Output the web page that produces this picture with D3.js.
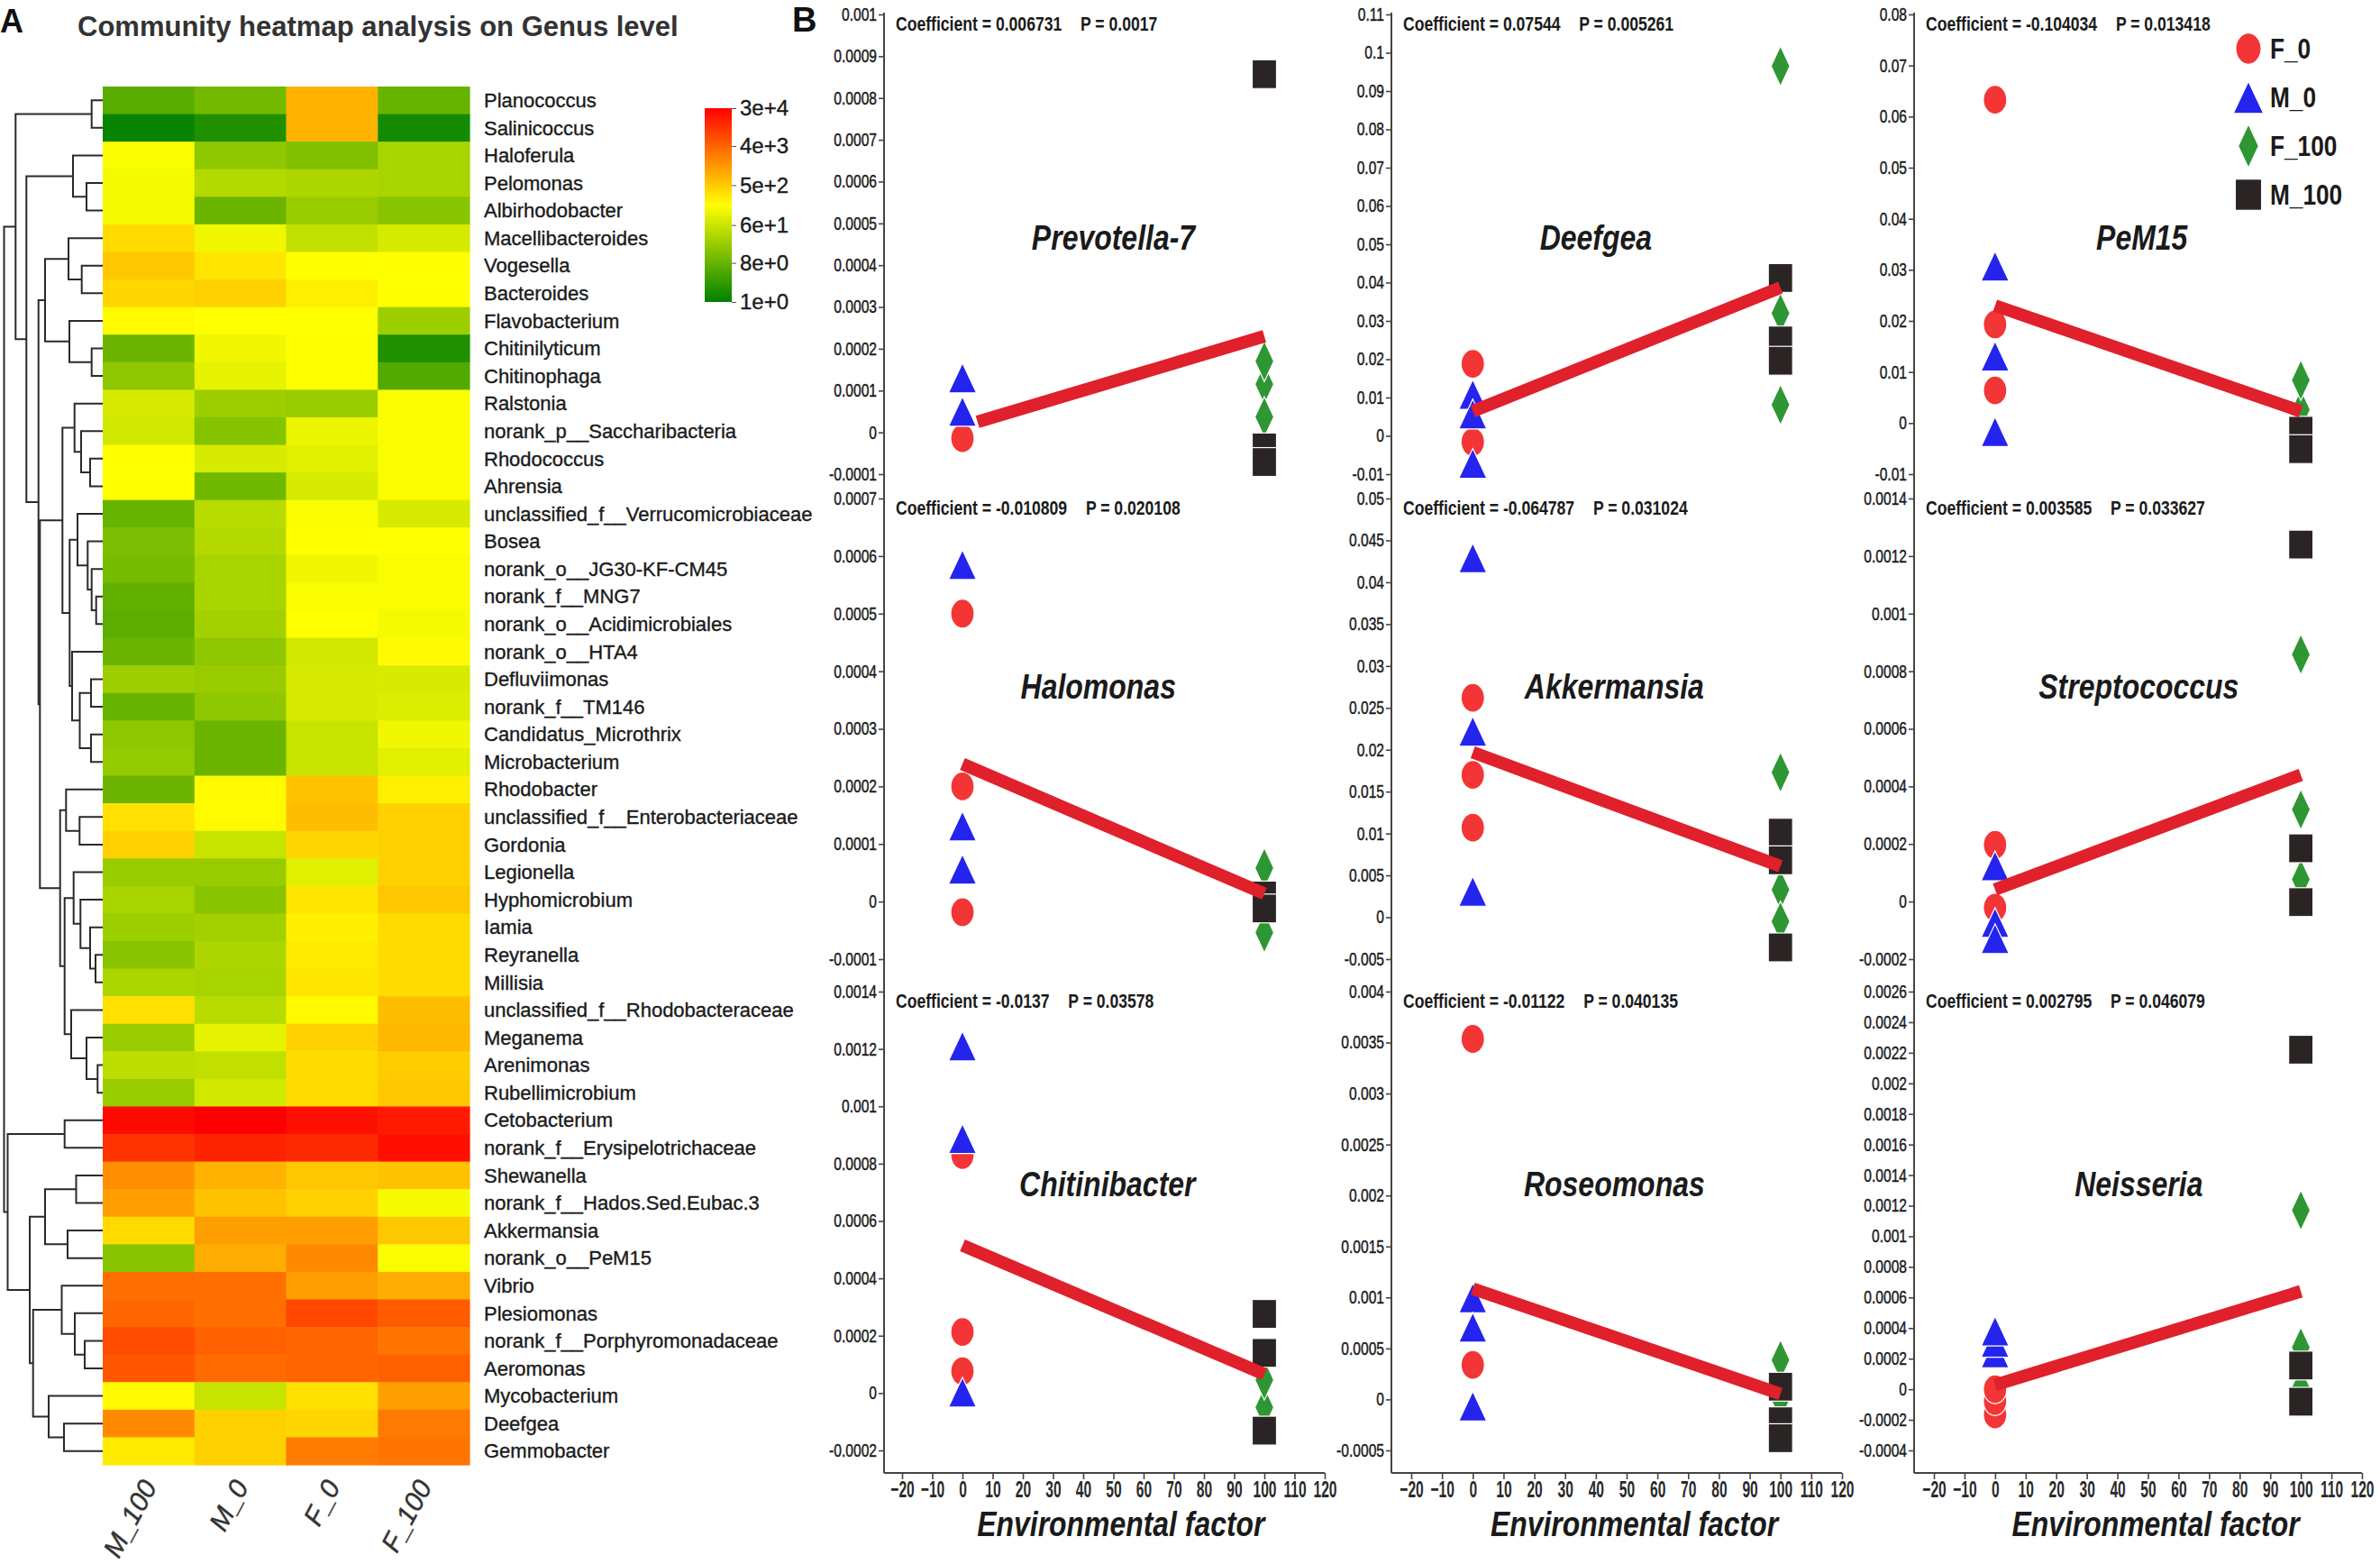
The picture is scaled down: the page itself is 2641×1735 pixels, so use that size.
<!DOCTYPE html>
<html lang="en">
<head>
  <meta charset="UTF-8">
  <title>Community heatmap and correlation panels</title>
  <script src="https://cdn.jsdelivr.net/npm/d3@7"></script>
  <style>
    body { margin: 0; background: #fff; }
    svg { display: block; font-family: "Liberation Sans", Arial, sans-serif; }
  </style>
</head>
<body>

<svg id="chart" width="2641" height="1735"></svg>

<script>
// ---------- data: panel A (heatmap) ----------
const samples = ["M_100", "M_0", "F_0", "F_100"];

const genera = [
  "Planococcus", "Salinicoccus", "Haloferula", "Pelomonas", "Albirhodobacter",
  "Macellibacteroides", "Vogesella", "Bacteroides", "Flavobacterium", "Chitinilyticum",
  "Chitinophaga", "Ralstonia", "norank_p__Saccharibacteria", "Rhodococcus", "Ahrensia",
  "unclassified_f__Verrucomicrobiaceae", "Bosea", "norank_o__JG30-KF-CM45", "norank_f__MNG7",
  "norank_o__Acidimicrobiales", "norank_o__HTA4", "Defluviimonas", "norank_f__TM146",
  "Candidatus_Microthrix", "Microbacterium", "Rhodobacter", "unclassified_f__Enterobacteriaceae",
  "Gordonia", "Legionella", "Hyphomicrobium", "Iamia", "Reyranella", "Millisia",
  "unclassified_f__Rhodobacteraceae", "Meganema", "Arenimonas", "Rubellimicrobium",
  "Cetobacterium", "norank_f__Erysipelotrichaceae", "Shewanella", "norank_f__Hados.Sed.Eubac.3",
  "Akkermansia", "norank_o__PeM15", "Vibrio", "Plesiomonas", "norank_f__Porphyromonadaceae",
  "Aeromonas", "Mycobacterium", "Deefgea", "Gemmobacter"
];

// abundance per genus, columns in the order of `samples`
const abundance = [
  [6, 10, 810, 8], [1.2, 1.9, 810, 1.5], [156, 18, 13, 30], [141, 37, 33, 30], [141, 8.7, 22, 16],
  [356, 127, 50, 76], [538, 290, 173, 173], [395, 438, 236, 173], [192, 173, 173, 24], [8.7, 127, 173, 1.9],
  [18, 103, 173, 5.2], [76, 24, 22, 156], [68, 15, 115, 156], [173, 76, 93, 156], [173, 9.7, 76, 156],
  [7.9, 41, 156, 76], [12, 37, 173, 173], [11, 30, 127, 156], [7.1, 30, 156, 156], [6.4, 27, 173, 141],
  [8.7, 18, 68, 192], [24, 22, 76, 76], [7.9, 18, 76, 84], [18, 8.7, 56, 127], [20, 8.7, 56, 93],
  [8.7, 192, 597, 236], [322, 192, 662, 438], [438, 56, 395, 438], [22, 22, 93, 438], [30, 16, 290, 538],
  [24, 27, 236, 356], [16, 33, 262, 356], [33, 30, 290, 356], [322, 41, 192, 662], [22, 103, 438, 733],
  [45, 50, 356, 485], [22, 68, 356, 538], [24400, 30000, 22000, 17900], [10700, 14600, 13200, 22000],
  [1670, 810, 538, 597], [1230, 597, 438, 141], [356, 1230, 1230, 538], [16, 900, 1850, 156],
  [3100, 3100, 1230, 900], [3800, 3100, 7100, 4700], [6400, 4230, 3800, 2800], [5200, 3440, 3800, 4230],
  [192, 56, 322, 1230], [1850, 438, 395, 2530], [262, 438, 2530, 2800]
];

// row clustering: [merge height, left, right], leaves are row indices
const dendrogram =
  [109.5,
    [96.7,
      [12.3, 0, 1],
      [84.7,
        [33, 2, [18, 3, 4]],
        [71.3,
          [64, [38, 5, [23.3, 6, 7]], [37, 8, [12.3, 9, 10]]],
          [69.7,
            [44.7,
              [31.3, 11, [24, 12, [14, 13, 14]]],
              [36.7,
                [28, 15, [16.7, 16, [12.3, 17, [7.3, 18, 19]]]],
                [34, 20, [25.5, [13, 21, 22], [13, 23, 24]]]]],
            [47.3,
              [40.7, 25, [25.7, 26, 27]],
              [42.3,
                [32.3, 28, [24.7, 29, [14, 30, [8, 31, 32]]]],
                [35, 33, [18, 34, [5.7, 35, 36]]]]]]]]],
    [105.5,
      [42.3, 37, 38],
      [81,
        [64, [29.5, 39, 40], [39, 41, 42]],
        [77.3,
          [45.5, 43, [31, 44, [20, 45, 46]]],
          [60, 47, [43, 48, 49]]]]]];

const colorTicks = [1, 8, 60, 500, 4000, 30000];
const colorTickLabels = ["1e+0", "8e+0", "6e+1", "5e+2", "4e+3", "3e+4"];

// ---------- data: panel B (nine correlation plots) ----------
const panelGenus = ["Prevotella-7", "Deefgea", "PeM15", "Halomonas", "Akkermansia",
                    "Streptococcus", "Chitinibacter", "Roseomonas", "Neisseria"];
const panelCoef = ["0.006731", "0.07544", "-0.104034", "-0.010809", "-0.064787",
                   "0.003585", "-0.0137", "-0.01122", "0.002795"];
const panelP = ["0.0017", "0.005261", "0.013418", "0.020108", "0.031024",
                "0.033627", "0.03578", "0.040135", "0.046079"];
const panelYMin = [-0.0001, -0.01, -0.01, -0.0001, -0.005, -0.0002, -0.0002, -0.0005, -0.0004];
const panelYMax = [0.001, 0.11, 0.08, 0.0007, 0.05, 0.0014, 0.0014, 0.004, 0.0026];
const panelYStep = [0.0001, 0.01, 0.01, 0.0001, 0.005, 0.0002, 0.0002, 0.0005, 0.0002];

const groups = ["F_0", "M_0", "F_100", "M_100"];
const groupLevel = [0, 0, 100, 100];

const valuesF0 = [
  [-0.000014], [0.0188, -0.0016], [0.0633, 0.0193, 0.0064],
  [0.0005, 0.0002, -0.0000185], [0.0262, 0.017, 0.0107], [0.000197, -0.000021],
  [0.00083, 0.000213, 0.0000764], [0.003536, 0.000339], [-0.000165, -0.000078, 0]
];
const valuesM0 = [
  [0.00013, 0.00005], [0.0108, 0.0057, -0.0072], [0.0307, 0.0131, -0.0017],
  [0.000585, 0.000131, 0.000056], [0.0429, 0.0222, 0.0031], [0.000124, -0.000073, -0.000129],
  [0.00121, 0.000887, 0.000003], [0.000995, 0.000707, -0.000066], [0.000237, 0.000306, 0.00038]
];
const valuesF100 = [
  [0.000115, 0.00017, 0.000037], [0.0965, 0.032, 0.0081], [0.0026, 0.0084],
  [0.000058, -0.000054], [0.0033, 0.0173, -0.0005], [0.000077, 0.000858, 0.00032],
  [-0.00005, 0.0000463], [0, 0.000387], [0.00001, 0.00117, 0.000274]
];
const valuesM100 = [
  [0.000857, -0.000036, -0.000071], [0.0412, 0.0249, 0.0196], [-0.0015, -0.0051],
  [0.0000105, -0.000012], [0.0101, 0.0068, -0.0036], [0.00124, 0.000185, -0.000002],
  [0.000276, 0.00014, -0.000131], [0.000125, -0.000214, -0.00038], [0.00222, 0.000155, -0.0000815]
];

// fitted line: [x, y] at start and at end
const fitStart = [[5, 0.000025], [0, 0.0064], [0, 0.023], [0, 0.000239], [0, 0.0197],
                  [0, 0.000042], [0, 0.000515], [0, 0.001086], [0, 0.000028]];
const fitEnd = [[100, 0.00023], [100, 0.0387], [100, 0.0023], [100, 0.0000136], [100, 0.0061],
                [100, 0.00044], [100, 0.0000657], [100, 0.0000547], [100, 0.00064]];

const xTicks = [-20, -10, 0, 10, 20, 30, 40, 50, 60, 70, 80, 90, 100, 110, 120];

// ---------- layout ----------
const svg = d3.select("#chart");
const ink = "#1a1a1a";

const heat = { left: 114, right: 521, top: 96, bottom: 1625 };
const cols = [
  { axis: 981, x0: 1001, x1: 1470 },
  { axis: 1544, x0: 1566, x1: 2044 },
  { axis: 2124, x0: 2146, x1: 2621 }
];
const rows = [
  { top: 16, bottom: 526, title: 261 },
  { top: 553, bottom: 1064, title: 222 },
  { top: 1100, bottom: 1609, title: 227 }
];
const titleX = [50, 40, 48, 45, 46, 47, 48, 46, 47];   // genus name centre, in x units
const baseY = 1634;

const groupColor = ["#f43535", "#2424ee", "#2e9632", "#2b2424"];

function squeezed(parent, x, y, sx) {
  return parent.append("text").attr("transform", `translate(${x},${y}) scale(${sx},1)`);
}

// ================= Panel A =================
svg.append("text").attr("x", 0).attr("y", 36)
  .attr("font-size", 36).attr("font-weight", "bold").attr("fill", "#111").text("A");
svg.append("text").attr("x", 86).attr("y", 40)
  .attr("font-size", 31).attr("font-weight", "bold").attr("fill", "#333")
  .text("Community heatmap analysis on Genus level");

const hx = d3.scaleBand().domain(samples).range([heat.left, heat.right]);
const hy = d3.scaleBand().domain(d3.range(genera.length)).range([heat.top, heat.bottom]);
const color = d3.scaleLog()
  .domain([1, Math.sqrt(30000), 30000])
  .range(["#008000", "#ffff00", "#ff0000"])
  .clamp(true);

const cells = abundance.flatMap((row, i) => row.map((v, j) => ({ i, s: samples[j], v })));
svg.append("g").selectAll("rect").data(cells).join("rect")
  .attr("x", d => hx(d.s)).attr("y", d => hy(d.i))
  .attr("width", hx.bandwidth() + 0.6).attr("height", hy.bandwidth() + 0.6)
  .attr("fill", d => color(d.v));

svg.append("g").selectAll("text").data(genera).join("text")
  .attr("x", heat.right + 16).attr("y", (d, i) => hy(i) + hy.bandwidth() / 2)
  .attr("dy", "0.35em").attr("font-size", 22).attr("fill", ink)
  .attr("stroke", ink).attr("stroke-width", 0.35)
  .text(d => d);

svg.append("g").selectAll("text").data(samples).join("text")
  .attr("text-anchor", "end")
  .attr("transform", d => `translate(${hx(d) + hx.bandwidth() / 2 + 10},${heat.bottom + 24}) rotate(-62)`)
  .attr("font-size", 30).attr("font-style", "italic").attr("fill", "#333")
  .attr("stroke", "#333").attr("stroke-width", 0.4)
  .text(d => d);

// dendrogram
function toNode(d) {
  return typeof d === "number" ? { leaf: d, h: 0 } : { h: d[0], children: [toNode(d[1]), toNode(d[2])] };
}
const tree = d3.hierarchy(toNode(dendrogram));
tree.eachAfter(n => {
  n.yPos = n.children
    ? (n.children[0].yPos + n.children[1].yPos) / 2
    : hy(n.data.leaf) + hy.bandwidth() / 2;
});
const dx = d3.scaleLinear().domain([0, tree.data.h]).range([heat.left, 4.5]);
svg.append("g").selectAll("path")
  .data(tree.descendants().filter(n => n.children)).join("path")
  .attr("fill", "none").attr("stroke", "#2a2a2a").attr("stroke-width", 2)
  .attr("d", n => {
    const [a, b] = n.children;
    return `M${dx(a.data.h)},${a.yPos}H${dx(n.data.h)}V${b.yPos}H${dx(b.data.h)}`;
  });

// colour key
const key = { x: 782, w: 30, top: 120, bottom: 335 };
const ky = d3.scaleLog().domain([1, 30000]).range([key.bottom, key.top]);
const grad = svg.append("defs").append("linearGradient")
  .attr("id", "keygrad").attr("x1", 0).attr("y1", 1).attr("x2", 0).attr("y2", 0);
grad.selectAll("stop").data(d3.range(0, 1.0001, 0.05)).join("stop")
  .attr("offset", d => d)
  .attr("stop-color", d => color(Math.pow(30000, d)));
svg.append("rect").attr("x", key.x).attr("y", key.top)
  .attr("width", key.w).attr("height", key.bottom - key.top).attr("fill", "url(#keygrad)");
const keyAxis = svg.append("g").attr("transform", `translate(${key.x + key.w},0)`)
  .call(d3.axisRight(ky).tickValues(colorTicks).tickSize(5).tickPadding(4)
    .tickFormat((d, i) => colorTickLabels[i]));
keyAxis.select(".domain").remove();
keyAxis.attr("font-family", null).attr("font-size", 24);
keyAxis.selectAll(".tick text").attr("fill", ink).attr("stroke", ink).attr("stroke-width", 0.35);
keyAxis.selectAll(".tick line").attr("stroke", "#555");

// ================= Panel B =================
svg.append("text").attr("x", 879).attr("y", 35)
  .attr("font-size", 38).attr("font-weight", "bold").attr("fill", "#111").text("B");

// long column axes and the shared x axis
cols.forEach(c => {
  svg.append("line").attr("x1", c.axis).attr("x2", c.axis)
    .attr("y1", rows[0].top - 2).attr("y2", baseY)
    .attr("stroke", "#444").attr("stroke-width", 2);
  const x = d3.scaleLinear().domain([-20, 120]).range([c.x0, c.x1]);
  const gx = svg.append("g").attr("transform", `translate(0,${baseY})`)
    .call(d3.axisBottom(x).tickValues(xTicks).tickSize(7).tickPadding(0));
  gx.attr("font-family", null).attr("font-size", 26);
  gx.select(".domain").attr("d", `M${c.axis},0H${c.x1}`).attr("stroke", "#444").attr("stroke-width", 2);
  gx.selectAll(".tick line").attr("stroke", "#444").attr("stroke-width", 1.6);
  gx.selectAll(".tick text").attr("y", null).attr("dy", null)
    .attr("transform", "translate(0,27) scale(0.6,1)")
    .attr("font-weight", "bold").attr("fill", "#2a2a2a");
  squeezed(svg, x(52.5), 1704, 0.84)
    .attr("text-anchor", "middle").attr("font-size", 38)
    .attr("font-weight", "bold").attr("font-style", "italic").attr("fill", ink)
    .text("Environmental factor");
});

const seriesValues = [valuesF0, valuesM0, valuesF100, valuesM100];

function drawMarker(g, k, cx, cy, s) {
  const fill = groupColor[k];
  let el;
  if (k === 0) {
    el = g.append("ellipse").attr("cx", cx).attr("cy", cy).attr("rx", 13 * s).attr("ry", 16 * s);
  } else if (k === 1) {
    el = g.append("path").attr("d",
      `M${cx},${cy - 16.5 * s}L${cx + 15.5 * s},${cy + 16.5 * s}L${cx - 15.5 * s},${cy + 16.5 * s}Z`);
  } else if (k === 2) {
    el = g.append("path").attr("d",
      `M${cx},${cy - 22.5 * s}L${cx + 10.5 * s},${cy}L${cx},${cy + 22.5 * s}L${cx - 10.5 * s},${cy}Z`);
  } else {
    el = g.append("rect").attr("x", cx - 13.5 * s).attr("y", cy - 16 * s)
      .attr("width", 27 * s).attr("height", 32 * s);
  }
  el.attr("fill", fill).attr("stroke", "#fff").attr("stroke-width", 1.2);
}

panelGenus.forEach((genus, p) => {
  const c = cols[p % 3];
  const r = rows[Math.floor(p / 3)];
  const g = svg.append("g");

  const x = d3.scaleLinear().domain([-20, 120]).range([c.x0, c.x1]);
  const y = d3.scaleLinear().domain([panelYMin[p], panelYMax[p]]).range([r.bottom, r.top]);

  const nTicks = Math.round((panelYMax[p] - panelYMin[p]) / panelYStep[p]);
  const yTicks = d3.range(nTicks + 1).map(k => +(panelYMin[p] + k * panelYStep[p]).toFixed(6));
  const gy = g.append("g").attr("transform", `translate(${c.axis},0)`)
    .call(d3.axisLeft(y).tickValues(yTicks).tickSize(6).tickPadding(0).tickFormat(d => String(d)));
  gy.select(".domain").remove();
  gy.attr("font-family", null).attr("font-size", 20);
  gy.selectAll(".tick line").attr("stroke", "#444").attr("stroke-width", 1.6);
  gy.selectAll(".tick text").attr("x", null)
    .attr("transform", "translate(-8,0) scale(0.78,1)")
    .attr("fill", ink).attr("stroke", ink).attr("stroke-width", 0.45);

  // coefficient and P value
  const t = squeezed(g, c.axis + 13, r.top + 18, 0.8)
    .attr("font-size", 22).attr("font-weight", "bold").attr("fill", ink);
  t.append("tspan").text(`Coefficient = ${panelCoef[p]}`);
  t.append("tspan").attr("dx", 26).text(`P = ${panelP[p]}`);

  // genus name
  squeezed(g, x(titleX[p]), r.top + r.title, 0.82)
    .attr("text-anchor", "middle").attr("font-size", 39)
    .attr("font-weight", "bold").attr("font-style", "italic").attr("fill", ink)
    .text(genus);

  // points
  seriesValues.forEach((vals, k) => {
    vals[p].forEach(v => drawMarker(g, k, x(groupLevel[k]), y(v), 1));
  });

  // fitted line
  g.append("line")
    .attr("x1", x(fitStart[p][0])).attr("y1", y(fitStart[p][1]))
    .attr("x2", x(fitEnd[p][0])).attr("y2", y(fitEnd[p][1]))
    .attr("stroke", "#e0202a").attr("stroke-width", 14);
});

// legend
const legend = svg.append("g");
groups.forEach((name, k) => {
  const cy = 54 + k * 54;
  drawMarker(legend, k, 2495, cy, 1.08);
  squeezed(legend, 2519, cy + 11, 0.82)
    .attr("font-size", 32).attr("font-weight", "bold").attr("fill", ink)
    .text(name);
});
</script>

</body>
</html>
